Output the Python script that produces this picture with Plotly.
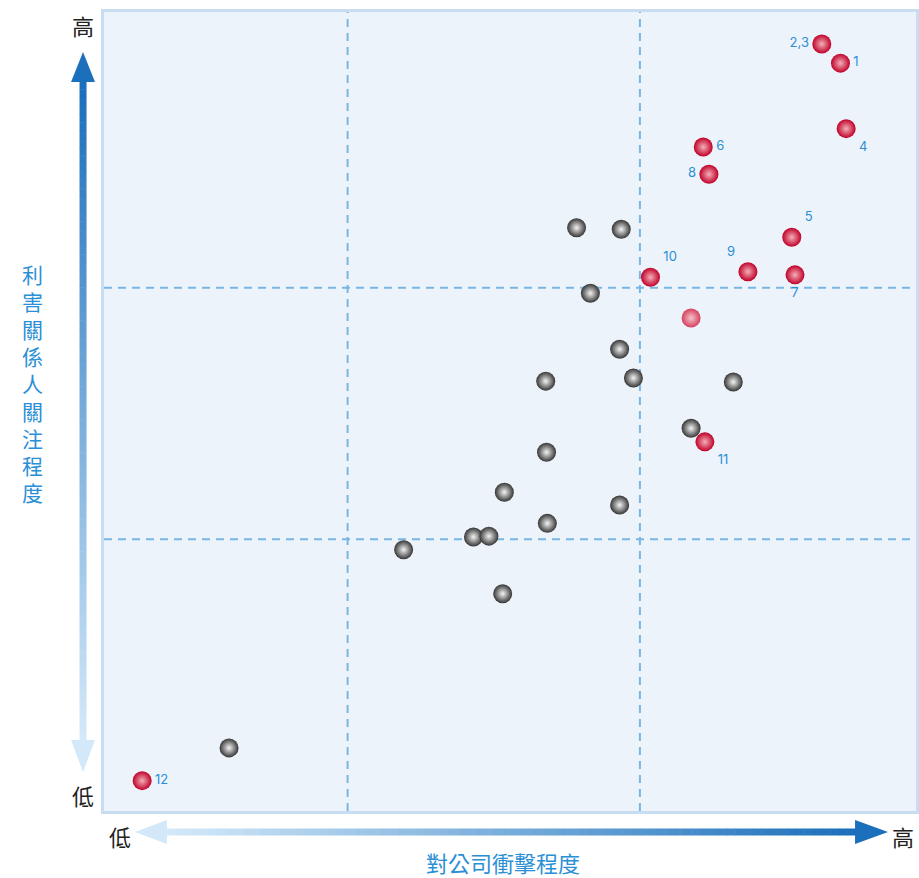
import plotly.graph_objects as go

# ---- data (0-100 scale on both axes) ----
red_x = [90.7, 88.4, 91.4, 84.7, 73.8, 85.1, 74.5, 79.3, 67.3, 74.0, 4.7]
red_y = [93.6, 96.0, 85.4, 71.8, 83.1, 67.1, 79.7, 67.5, 66.8, 46.2, 3.8]
red_labels = ["1", "2,3", "4", "5", "6", "7", "8", "9", "10", "11", "12"]
red_pos = ["middle right", "middle left", "bottom right", "top right", "middle right",
           "bottom center", "middle left", "top left", "top right", "bottom right", "middle right"]

pink_x = [72.3]
pink_y = [61.7]

gray_x = [58.2, 63.7, 59.9, 63.5, 54.4, 65.2, 77.5, 72.3, 54.5, 49.3, 63.5, 54.6, 45.5, 47.4, 36.9, 49.1, 15.4]
gray_y = [73.0, 72.8, 64.8, 57.8, 53.8, 54.2, 53.7, 47.9, 44.9, 39.9, 38.3, 36.0, 34.3, 34.4, 32.7, 27.2, 7.9]

x_dividers = [30, 66]
y_dividers = [34, 65.5]

y_title = "利害關係人關注程度"
x_title = "對公司衝擊程度"
high_label = "高"
low_label = "低"

W, H = 919, 878
L, R, T, B = 104, 917, 12, 811
FONT = "Noto Sans CJK TC"
BLUE_TXT = "#2b8fd6"


def px2x(p):
    return (p - L) / (R - L)


def px2y(p):
    return (B - p) / (B - T)


fig = go.Figure()

fig.add_trace(go.Scatter(
    x=gray_x, y=gray_y, mode="markers", hoverinfo="skip",
    marker=dict(size=19, color="#353535", line=dict(width=0),
                gradient=dict(type="radial", color="#f4f4f4"))))

fig.add_trace(go.Scatter(
    x=pink_x, y=pink_y, mode="markers", hoverinfo="skip",
    marker=dict(size=19, color="#d4405e", line=dict(width=0),
                gradient=dict(type="radial", color="#f6c4cc"))))

fig.add_trace(go.Scatter(
    x=red_x, y=red_y, mode="markers+text", hoverinfo="skip",
    text=red_labels, textposition=red_pos,
    textfont=dict(family="Inter", size=13, color=BLUE_TXT),
    marker=dict(size=19, color="#c00029", line=dict(width=0),
                gradient=dict(type="radial", color="#f4b0b8"))))

shapes = []
for xv in x_dividers:
    shapes.append(dict(type="line", xref="x", yref="paper", x0=xv, x1=xv, y0=0, y1=1,
                       line=dict(color="#7ab6e4", width=2, dash="8px,6px"), layer="below"))
for yv in y_dividers:
    shapes.append(dict(type="line", xref="paper", yref="y", x0=0, x1=1, y0=yv, y1=yv,
                       line=dict(color="#7ab6e4", width=2, dash="8px,6px"), layer="below"))


def lerp_color(c1, c2, t):
    a = [int(c1[i:i + 2], 16) for i in (1, 3, 5)]
    b = [int(c2[i:i + 2], 16) for i in (1, 3, 5)]
    return "rgb(%d,%d,%d)" % tuple(round(a[k] + (b[k] - a[k]) * t) for k in range(3))


DARK = "#1b6fbb"
LIGHT = "#d3e9f9"

# vertical arrow (left)
ax = 83
top_tip, top_base = 52, 82
bot_tip, bot_base = 772, 740
N = 80
for i in range(N):
    y0 = top_base - 1 + (bot_base + 1 - top_base + 1) * i / N
    y1 = top_base - 1 + (bot_base + 1 - top_base + 1) * (i + 1) / N
    t = i / (N - 1)
    c = lerp_color(DARK, LIGHT, t)
    shapes.append(dict(type="rect", xref="paper", yref="paper",
                       x0=px2x(ax - 3.5), x1=px2x(ax + 3.5), y0=px2y(y1 + 0.5), y1=px2y(y0),
                       line=dict(width=0), fillcolor=c))
shapes.append(dict(type="path", xref="paper", yref="paper",
                   path="M %f,%f L %f,%f L %f,%f Z" % (px2x(ax), px2y(top_tip), px2x(ax - 12), px2y(top_base),
                                                      px2x(ax + 12), px2y(top_base)),
                   line=dict(width=0), fillcolor=DARK))
shapes.append(dict(type="path", xref="paper", yref="paper",
                   path="M %f,%f L %f,%f L %f,%f Z" % (px2x(ax), px2y(bot_tip), px2x(ax - 12), px2y(bot_base),
                                                      px2x(ax + 12), px2y(bot_base)),
                   line=dict(width=0), fillcolor=LIGHT))

# horizontal arrow (bottom)
ay = 832
l_tip, l_base = 135, 167
r_tip, r_base = 889, 856
for i in range(N):
    x0 = l_base - 1 + (r_base + 1 - l_base + 1) * i / N
    x1 = l_base - 1 + (r_base + 1 - l_base + 1) * (i + 1) / N
    t = i / (N - 1)
    c = lerp_color(LIGHT, DARK, t)
    shapes.append(dict(type="rect", xref="paper", yref="paper",
                       x0=px2x(x0), x1=px2x(x1 + 0.5), y0=px2y(ay + 3.5), y1=px2y(ay - 3.5),
                       line=dict(width=0), fillcolor=c))
shapes.append(dict(type="path", xref="paper", yref="paper",
                   path="M %f,%f L %f,%f L %f,%f Z" % (px2x(l_tip), px2y(ay), px2x(l_base), px2y(ay - 12),
                                                      px2x(l_base), px2y(ay + 12)),
                   line=dict(width=0), fillcolor=LIGHT))
shapes.append(dict(type="path", xref="paper", yref="paper",
                   path="M %f,%f L %f,%f L %f,%f Z" % (px2x(r_tip), px2y(ay), px2x(r_base), px2y(ay - 12),
                                                      px2x(r_base), px2y(ay + 12)),
                   line=dict(width=0), fillcolor=DARK))


def ann(text, x, y, color, size=22):
    return dict(text=text, x=px2x(x), y=px2y(y), xref="paper", yref="paper", showarrow=False,
                xanchor="center", yanchor="middle", font=dict(family=FONT, size=size, color=color))


annotations = [
    ann(high_label, 83, 25, "#222222"),
    ann(low_label, 83, 795, "#222222"),
    ann(low_label, 120, 836, "#222222"),
    ann(high_label, 904, 836, "#222222"),
    ann(x_title, 503, 862, BLUE_TXT),
    ann("<br>".join(list(y_title)), 32, 383, BLUE_TXT, size=21),
]

fig.update_layout(
    width=W, height=H,
    margin=dict(l=L, r=0, t=T, b=H - B),
    paper_bgcolor="white", plot_bgcolor="#edf3fb",
    showlegend=False,
    xaxis=dict(range=[0, 100], showgrid=False, zeroline=False, showticklabels=False, ticks="",
               showline=True, mirror=True, linecolor="#c8ddf1", linewidth=3, fixedrange=True),
    yaxis=dict(range=[0, 100], showgrid=False, zeroline=False, showticklabels=False, ticks="",
               showline=True, mirror=True, linecolor="#c8ddf1", linewidth=3, fixedrange=True),
    shapes=shapes, annotations=annotations,
)

fig.write_html("out.html")
